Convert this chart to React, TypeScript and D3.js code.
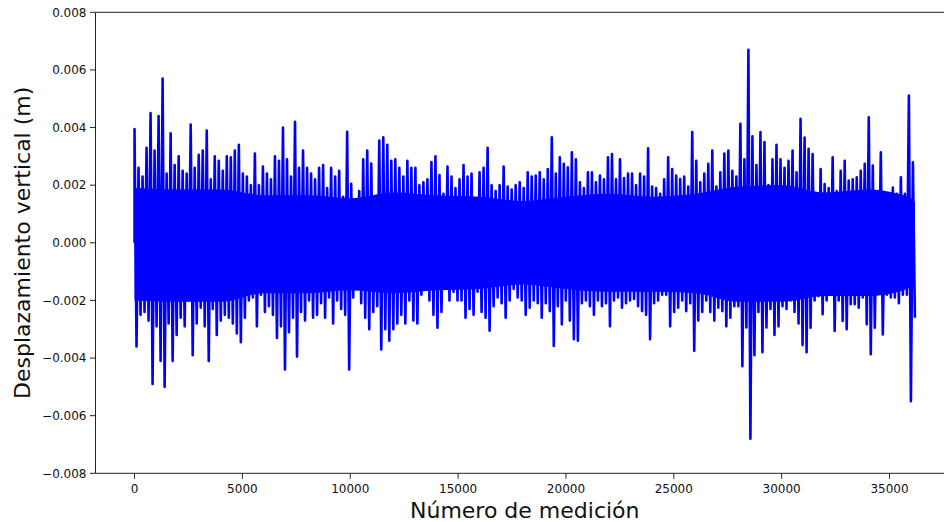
import React from 'react';
import * as d3 from 'd3';

// Peak envelope of the signal, one pair per block of 186 samples (values in mm)
const upperMm = [
  3.95, 2.6, 2.3, 3.3, 4.5, 3.2, 4.4, 5.7, 2.4, 3.8, 2.7, 3.0, 2.5, 2.4, 4.1, 2.6, 3.05, 3.2, 3.9, 2.2,
  3.0, 2.85, 2.5, 3.0, 2.97, 3.2, 3.4, 2.4, 2.3, 2.0, 3.1, 2.0, 2.65, 2.4, 2.2, 3.0, 2.85, 4.0, 2.9, 2.3,
  4.2, 2.6, 3.2, 2.6, 2.4, 2.2, 2.6, 2.7, 1.9, 2.6, 2.3, 2.5, 1.6, 3.85, 2.05, 1.5, 1.8, 2.9, 3.2, 2.75,
  1.5, 3.55, 3.66, 3.4, 2.85, 2.9, 2.6, 2.3, 2.85, 2.6, 2.6, 2.0, 2.1, 2.2, 2.8, 3.0, 2.35, 1.7, 2.65, 2.3,
  1.9, 2.2, 2.7, 2.3, 2.4, 1.5, 2.45, 2.6, 3.3, 2.0, 1.8, 2.0, 2.65, 1.95, 1.85, 2.0, 2.1, 1.9, 2.45, 2.3,
  2.33, 2.45, 2.2, 2.56, 3.66, 2.4, 2.97, 2.74, 2.62, 3.14, 2.9, 2.1, 1.9, 2.45, 2.45, 2.1, 2.33, 2.2, 2.97, 3.08,
  2.2, 2.9, 2.25, 2.4, 2.4, 2.0, 2.4, 2.3, 3.28, 1.95, 1.9, 1.7, 2.2, 2.97, 2.56, 2.33, 2.21, 2.3, 1.95, 3.84,
  2.85, 2.1, 2.4, 2.74, 3.2, 1.95, 2.45, 3.1, 3.2, 2.5, 2.3, 4.13, 2.9, 6.7, 3.7, 2.7, 3.84, 3.5, 2.0, 2.9,
  3.4, 2.9, 2.6, 2.85, 3.2, 2.45, 4.3, 3.65, 3.26, 3.08, 1.6, 2.56, 2.04, 1.9, 2.97, 1.8, 2.5, 2.85, 2.16, 2.2,
  2.27, 2.5, 2.74, 4.36, 2.68, 1.5, 3.14, 1.4, 1.69, 1.92, 1.7, 2.27, 1.7, 5.11, 2.79,
];
const lowerMm = [
  -3.6, -2.5, -2.4, -2.7, -4.9, -2.9, -4.1, -5.0, -2.8, -4.1, -3.2, -2.6, -2.9, -2.0, -3.9, -2.8, -2.25, -2.9, -4.1, -2.3,
  -3.2, -2.7, -2.5, -2.6, -2.8, -3.15, -3.45, -2.6, -2.0, -1.9, -2.9, -1.8, -2.4, -2.2, -2.5, -3.3, -2.9, -4.4, -3.1, -2.6,
  -3.95, -2.4, -2.7, -2.0, -2.6, -2.5, -2.1, -2.6, -1.9, -2.8, -2.0, -2.3, -2.5, -4.4, -1.9, -1.6, -2.1, -2.6, -3.0, -2.4,
  -2.2, -3.7, -3.0, -3.4, -3.0, -2.8, -2.5, -2.8, -2.0, -2.7, -2.8, -1.8, -1.6, -2.0, -2.5, -2.95, -2.4, -1.4, -2.0, -1.7,
  -2.0, -2.0, -2.6, -2.3, -2.5, -1.7, -2.4, -2.6, -3.05, -2.2, -1.9, -2.1, -2.6, -2.0, -1.6, -1.9, -2.0, -2.5, -2.25, -2.0,
  -2.1, -2.6, -2.1, -2.37, -3.58, -2.2, -2.83, -2.0, -2.7, -3.35, -3.4, -2.1, -2.0, -2.2, -2.5, -2.0, -2.2, -2.1, -2.9, -2.0,
  -1.9, -2.25, -2.1, -2.0, -1.95, -2.2, -2.37, -2.5, -3.35, -2.1, -2.0, -1.8, -1.8, -2.9, -2.4, -2.25, -2.0, -2.37, -2.1, -3.75,
  -2.7, -2.4, -2.0, -2.4, -2.7, -2.25, -2.37, -2.9, -2.6, -2.2, -2.2, -4.28, -2.94, -6.8, -3.9, -2.4, -3.8, -2.94, -2.3, -3.2,
  -2.9, -2.2, -2.3, -2.0, -2.4, -2.8, -3.55, -3.8, -2.95, -2.0, -1.85, -2.48, -2.0, -1.8, -3.06, -2.0, -2.71, -3.0, -2.13, -2.13,
  -2.25, -1.9, -2.83, -3.87, -2.95, -1.44, -3.18, -1.8, -1.9, -1.9, -2.1, -1.8, -1.8, -5.5, -2.6,
];
// edge of the solid (dense) part of the trace, every 2000 samples (mm)
const coreIdx = [0, 2000, 4000, 6000, 8000, 10000, 12000, 14000, 16000, 18000, 20000, 22000, 24000, 26000, 28000, 30000, 32000, 34000, 36000, 36180];
const coreUpperMm = [1.9, 1.85, 1.85, 1.65, 1.65, 1.55, 1.75, 1.65, 1.6, 1.45, 1.6, 1.7, 1.6, 1.7, 1.95, 2.0, 1.75, 1.85, 1.55, 1.4];
const coreLowerMm = [-2.0, -2.05, -2.05, -1.75, -1.75, -1.65, -1.75, -1.65, -1.6, -1.45, -1.6, -1.7, -1.7, -1.75, -2.05, -2.05, -1.85, -1.85, -1.55, -1.4];

const xTicks = [0, 5000, 10000, 15000, 20000, 25000, 30000, 35000];
const yTicks = [-0.008, -0.006, -0.004, -0.002, 0, 0.002, 0.004, 0.006, 0.008];

const STEP = 186;
const W = 944;
const H = 522;
const FONT = '"DejaVu Sans", sans-serif';
const BLUE = '#0000ff';

export default function App() {
  const x = d3.scaleLinear().domain([-1809, 37989]).range([95.5, 954]);
  const y = d3.scaleLinear().domain([-0.008, 0.008]).range([473.3, 12.3]);

  // zigzag between block max and block min
  const pts: [number, number][] = [[0, 0]];
  upperMm.forEach((u, i) => {
    pts.push([i * STEP, u / 1000]);
    pts.push([i * STEP + STEP / 2, lowerMm[i] / 1000]);
  });
  const line = d3.line<[number, number]>()
    .x(d => x(d[0]))
    .y(d => y(d[1]));

  const core = d3.area<number>()
    .x(i => x(coreIdx[i]))
    .y0(i => y(coreLowerMm[i] / 1000))
    .y1(i => y(coreUpperMm[i] / 1000))
    .curve(d3.curveMonotoneX);

  const [x0, x1] = x.range();
  const [yb, yt] = y.range();
  const fmt = (v: number) => (v < 0 ? '\u2212' : '') + Math.abs(v).toFixed(3);

  return (
    <svg width={W} height={H} style={{ position: 'absolute', left: 0, top: 0, background: '#fff' }}>
      <path d={core(d3.range(coreIdx.length)) || ''} fill={BLUE} />
      <path d={line(pts) || ''} fill="none" stroke={BLUE} strokeWidth={2.6} strokeLinejoin="round" />

      {/* spines */}
      <g stroke="#222" strokeWidth={1} fill="none">
        <line x1={x0} x2={x0} y1={yt} y2={yb} />
        <line x1={x0} x2={x1} y1={yb} y2={yb} />
        <line x1={x0} x2={x1} y1={yt} y2={yt} />
        <line x1={x1} x2={x1} y1={yt} y2={yb} />
      </g>

      {/* x ticks */}
      {xTicks.map(t => (
        <g key={t} transform={`translate(${x(t)},${yb})`}>
          <line y2={5.5} stroke="#222" />
          <text y={19.5} textAnchor="middle" fontFamily={FONT} fontSize={12} fill="#111">{t}</text>
        </g>
      ))}

      {/* y ticks */}
      {yTicks.map(t => (
        <g key={t} transform={`translate(${x0},${y(t)})`}>
          <line x2={-5.5} stroke="#222" />
          <text x={-9} dy="0.35em" textAnchor="end" fontFamily={FONT} fontSize={12} fill="#111">{fmt(t)}</text>
        </g>
      ))}

      <text x={(x0 + x1) / 2} y={518} textAnchor="middle" fontFamily={FONT} fontSize={22} fill="#111">
        Número de medición
      </text>
      <text transform={`translate(30,${(yt + yb) / 2}) rotate(-90)`} textAnchor="middle" fontFamily={FONT} fontSize={22} fill="#111">
        Desplazamiento vertical (m)
      </text>
    </svg>
  );
}
